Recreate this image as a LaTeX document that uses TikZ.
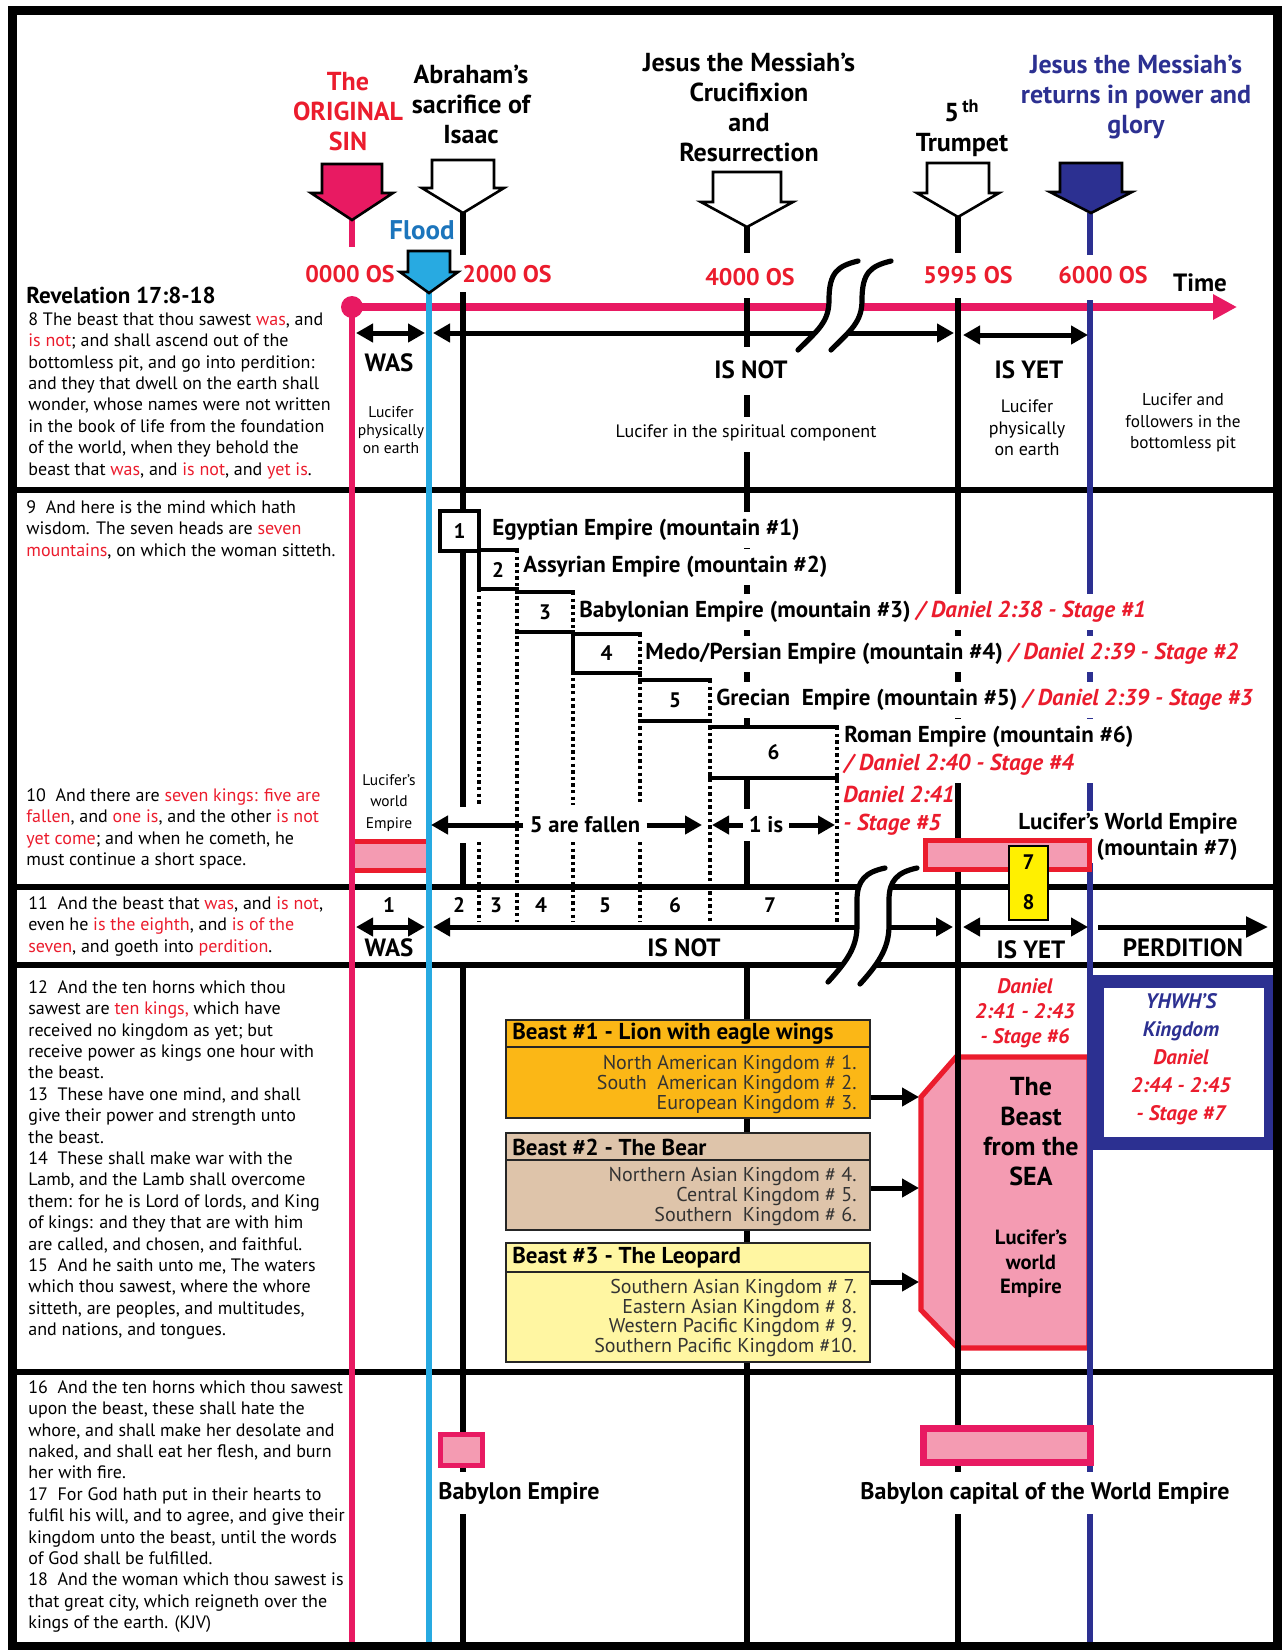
\documentclass[tikz,border=0pt]{standalone}
\usepackage{fontspec}
\setmainfont{PT Sans}
\usetikzlibrary{arrows.meta}

\definecolor{sinpink}{RGB}{232,26,98}
\definecolor{vred}{RGB}{235,28,45}
\definecolor{floodcyan}{RGB}{40,170,225}
\definecolor{floodblue}{RGB}{28,117,188}
\definecolor{navy}{RGB}{44,48,145}
\definecolor{softpink}{RGB}{244,155,178}
\definecolor{lionorange}{RGB}{251,183,22}
\definecolor{beartan}{RGB}{222,196,170}
\definecolor{leopardyellow}{RGB}{255,246,162}
\definecolor{markyellow}{RGB}{255,240,0}

\newcommand{\redw}[1]{\textcolor{vred}{#1}}
\newcommand{\downblock}[7]{%
  \filldraw[fill=#7, draw=black, line width=1.3pt, line join=miter]
    (#1-#5,#2) -- (#1+#5,#2) -- (#1+#5,#3) -- (#1+#6,#3) -- (#1,#4)
    -- (#1-#6,#3) -- (#1-#5,#3) -- cycle;}

\tikzset{
  headline/.style={font={\bfseries\fontsize{13}{15}\selectfont}, align=center, inner sep=1pt},
  yearlab/.style={font={\bfseries\fontsize{12}{14}\selectfont}, text=vred, inner sep=1pt},
  bigword/.style={font={\bfseries\fontsize{12.5}{14}\selectfont}, inner sep=1pt},
  smallnote/.style={font={\fontsize{9}{10.7}\selectfont}, align=center, inner sep=1pt},
  tinynote/.style={font={\fontsize{7.8}{9}\selectfont}, align=center, inner sep=1pt},
  verse/.style={anchor=north west, inner sep=0pt, align=left, font={\fontsize{9}{10.7}\selectfont}},
  empire/.style={anchor=west, fill=white, inner xsep=1pt, inner ysep=3.5pt, align=left, font={\bfseries\fontsize{11.5}{14}\selectfont}},
  stagetext/.style={text=vred, font={\bfseries\itshape\fontsize{11.5}{14}\selectfont}},
  numlab/.style={font={\bfseries\fontsize{10.5}{12}\selectfont}, inner sep=1pt},
  outerframe/.style={line width=4.5pt},
  divider/.style={line width=2.6pt},
  vline/.style={line width=3pt},
  dotline/.style={line width=2pt, dash pattern=on 1.7pt off 1.6pt},
  boxline/.style={line width=2.3pt},
  arr/.style={line width=2.5pt, -{Triangle[length=8.5pt,width=9pt]}},
  darr/.style={line width=2.5pt, {Triangle[length=8.5pt,width=9pt]}-{Triangle[length=8.5pt,width=9pt]}},
  breakline/.style={line width=2.6pt, line cap=round},
  beastbox/.style={draw=black!85, line width=1.2pt, minimum width=182pt, inner sep=0pt},
  beasttitle/.style={anchor=west, font={\bfseries\fontsize{11.5}{12}\selectfont}, inner sep=0pt},
  beastbody/.style={anchor=east, align=right, font={\fontsize{10}{10}\selectfont}, text=black!80, inner sep=0pt},
  babyl/.style={fill=white, inner xsep=1pt, inner ysep=5pt, font={\bfseries\fontsize{12}{13}\selectfont}},
}

\begin{document}
\begin{tikzpicture}[x=0.5pt, y=-0.5pt]
\useasboundingbox (0,0) rectangle (1282,1650);

\foreach \y in {490,887,965,1372}
  \draw[divider] (12,\y) -- (1277,\y);

\filldraw[fill=softpink, draw=vred, line width=2.6pt, line join=miter]
  (956,1057) -- (1089,1057) -- (1089,1348) -- (958,1348) -- (921,1310) -- (921,1097) -- cycle;

\draw[line width=4pt, sinpink, -{Triangle[length=12pt,width=12pt]}] (352,307) -- (1237,307);
\fill[sinpink] (352,307) circle[radius=5.5pt];

\draw[vline, sinpink] (352,220) -- (352,247) (352,307) -- (352,1643);
\draw[vline, floodcyan] (429,293) -- (429,1643);
\draw[vline] (463,213) -- (463,255) (463,292) -- (463,807) (463,843) -- (463,887) (463,965) -- (463,1643);
\draw[line width=2.6pt] (747,227) -- (747,253) (747,298) -- (747,347) (747,395) -- (747,417)
  (747,452) -- (747,887) (747,965) -- (747,1643);
\draw[vline] (958,217) -- (958,253) (958,298) -- (958,1643);
\draw[vline, navy] (1090,213) -- (1090,255) (1090,300) -- (1090,1643);

\downblock{352}{164}{193}{220}{30}{41}{sinpink}
\downblock{463}{160}{188}{213}{31}{41}{white}
\downblock{747}{172}{202}{227}{34}{46}{white}
\downblock{958}{163}{193}{217}{31}{41}{white}
\downblock{1091}{163}{192}{213}{31}{41}{navy}
\downblock{429}{251}{272}{293}{21}{29}{floodcyan}

\node[headline, text=vred] (sin) at (348,112) {The\\ORIGINAL\\SIN};
\node[headline] (abraham) at (471,104) {Abraham's\\sacrifice of\\Isaac};
\node[headline] (cross) at (749,107) {Jesus the Messiah's\\Crucifixion\\and\\Resurrection};
\node[headline] (trumpet) at (962,128) {5\textsuperscript{\,th}\\Trumpet};
\node[headline, text=navy] (return) at (1136,97) {Jesus the Messiah's\\returns in power and\\glory};
\node[headline, text=floodblue, font={\bfseries\fontsize{13.5}{15}\selectfont}] (flood) at (422,230) {Flood};

\node[yearlab] (y0) at (350,274) {0000 OS};
\node[yearlab] (y2) at (507,274) {2000 OS};
\node[yearlab] (y4) at (750,277) {4000 OS};
\node[yearlab] (y5) at (968,275) {5995 OS};
\node[yearlab] (y6) at (1103,275) {6000 OS};
\node[bigword] (time) at (1200,283) {Time};

\node[anchor=west, inner sep=0pt, font={\bfseries\fontsize{11.5}{12}\selectfont}] (rev) at (26,295) {Revelation 17:8-18};

\coordinate (wasA) at (356,333);
\coordinate (wasB) at (425,333);
\coordinate (notA) at (433,333);
\coordinate (notB) at (954,333);
\coordinate (yetA) at (963,335);
\coordinate (yetB) at (1088,335);
\draw[darr] (wasA) -- (wasB);
\draw[darr] (notA) -- (notB);
\draw[darr] (yetA) -- (yetB);

\node[bigword] (was1) at (389,363) {WAS};
\node[bigword] (isnot1) at (751,370) {IS NOT};
\node[bigword] (isyet1) at (1029,370) {IS YET};
\node[tinynote] (lucA) at (391,430) {Lucifer\\physically\\on earth};
\node[smallnote] (lucB) at (746,433) {Lucifer in the spiritual component};
\node[smallnote] (lucC) at (1027,428) {Lucifer\\physically\\on earth};
\node[smallnote, font={\fontsize{8.6}{10.7}\selectfont}] (lucD) at (1183,423) {Lucifer and\\followers in the\\bottomless pit};

\fill[white] (798,350) .. controls (818,330) and (829,322) .. (829,300) .. controls (829,272) and (838,266) .. (858,261)
  -- (891,261) .. controls (871,266) and (862,272) .. (862,300) .. controls (862,322) and (851,330) .. (831,350) -- cycle;
\draw[breakline] (798,350) .. controls (818,330) and (829,322) .. (829,300) .. controls (829,272) and (838,266) .. (858,261);
\draw[breakline] (831,350) .. controls (851,330) and (862,322) .. (862,300) .. controls (862,272) and (871,266) .. (891,261);

\node[empire] (e1) at (490,530) {Egyptian Empire (mountain \#1)};
\node[empire] (e2) at (521,567) {Assyrian Empire (mountain \#2)};
\node[empire] (e3) at (577,612) {Babylonian Empire (mountain \#3) {\itshape\color{vred}/ Daniel 2:38 - Stage \#1}};
\node[empire] (e4) at (643,654) {Medo/Persian Empire (mountain \#4) {\itshape\color{vred}/ Daniel 2:39 - Stage \#2}};
\node[empire] (e5) at (714,700) {Grecian\ \ Empire (mountain \#5) {\itshape\color{vred}/ Daniel 2:39 - Stage \#3}};
\node[empire] (e6) at (842,751) {Roman Empire (mountain \#6)\\{\itshape\color{vred}/ Daniel 2:40 - Stage \#4}};
\node[stagetext, anchor=west, align=left, inner sep=1pt] (st5) at (841,811) {Daniel 2:41\\- Stage \#5};

\foreach \n/\xa/\xb/\ya/\yb in {1/440/479/511/551, 2/479/517/550/589, 3/517/573/592/632,
    4/573/640/634/673, 5/640/710/680/721, 6/710/837/727/778} {
  \fill[white] (\xa,\ya) rectangle (\xb,\yb);
  \draw[boxline] (\xa-2,\ya) -- (\xb+2,\ya) (\xa-2,\yb) -- (\xb+2,\yb);
  \node[numlab] (m\n) at ({(\xa+\xb)/2},{(\ya+\yb)/2}) {\n};
}
\draw[boxline] (440,511) -- (440,551) (479,511) -- (479,589) (573,634) -- (573,673);
\foreach \x/\y in {517/550, 710/680, 837/727}
  \draw[dotline] (\x,\y) -- (\x,922);
\foreach \x/\y in {479/589, 573/592, 640/634}
  \draw[dotline] (\x,\y) -- (\x,805) (\x,842) -- (\x,922);

\node[bigword, fill=white, inner ysep=4pt, inner xsep=3pt, font={\bfseries\fontsize{11.3}{12}\selectfont}] (fallen) at (585,825) {5 are fallen};
\node[bigword, fill=white, inner ysep=4pt, inner xsep=3pt, font={\bfseries\fontsize{11.3}{12}\selectfont}] (oneis) at (766,825) {1 is};
\coordinate (fallenL) at (431,825);
\coordinate (fallenR) at (702,825);
\coordinate (oneL) at (712,825);
\coordinate (oneR) at (835,825);
\draw[arr] (fallen.west) -- (fallenL);
\draw[arr] (fallen.east) -- (fallenR);
\draw[arr] (oneis.west) -- (oneL);
\draw[arr] (oneis.east) -- (oneR);

\node[tinynote, font={\fontsize{7.7}{10.7}\selectfont}] (lweL) at (389,803) {Lucifer's\\world\\Empire};
\fill[softpink] (355,840) rectangle (426,872);
\draw[line width=2.5pt, vred] (355,841.5) -- (426,841.5) (355,870) -- (426,870);

\node[anchor=east, align=right, fill=white, inner sep=1pt, font={\bfseries\fontsize{11.5}{13}\selectfont}] (lweR) at (1240,837) {Lucifer's World Empire\\(mountain \#7)};
\filldraw[fill=softpink, draw=vred, line width=2.5pt] (925,840) rectangle (1089,869);
\filldraw[fill=markyellow, draw=black, line width=1pt] (1009,846) rectangle (1048,920);
\node[numlab] (k7) at (1028.5,862) {7};
\node[numlab] (k8) at (1028.5,902) {8};

\foreach \n/\x in {1/389, 2/459, 3/496, 4/541, 5/605, 6/675, 7/770}
  \node[numlab] (c\n) at (\x,905) {\n};
\coordinate (was2A) at (356,927);
\coordinate (was2B) at (425,927);
\coordinate (not2A) at (433,927);
\coordinate (not2B) at (953,927);
\coordinate (yet2A) at (963,927);
\coordinate (yet2B) at (1088,927);
\coordinate (perA) at (1098,927);
\coordinate (perB) at (1268,927);
\draw[darr] (was2A) -- (was2B);
\draw[darr] (not2A) -- (not2B);
\draw[darr] (yet2A) -- (yet2B);
\draw[line width=2.5pt, -{Triangle[length=11pt,width=10pt]}] (perA) -- (perB);
\node[bigword] (was2) at (389,948) {WAS};
\node[bigword] (isnot2) at (684,948) {IS NOT};
\node[bigword] (isyet2) at (1031,950) {IS YET};
\node[bigword] (perdition) at (1183,948) {PERDITION};

\fill[white] (828,982) .. controls (850,958) and (857,945) .. (857,925) -- (857,900) .. controls (857,880) and (866,872) .. (885,868)
  -- (917,868) .. controls (898,872) and (889,880) .. (889,900) -- (889,925) .. controls (889,945) and (882,960) .. (860,984) -- cycle;
\draw[breakline] (828,982) .. controls (850,958) and (857,945) .. (857,925) -- (857,900) .. controls (857,880) and (866,872) .. (885,868);
\draw[breakline] (860,984) .. controls (882,960) and (889,945) .. (889,925) -- (889,900) .. controls (889,880) and (898,872) .. (917,868);

\foreach \nm/\col/\yc/\h/\ys in {lion/lionorange/1069/49pt/1047, bear/beartan/1181.5/48.5pt/1160,
    leopard/leopardyellow/1302.5/59.5pt/1272} {
  \node[beastbox, fill=\col, minimum height=\h] (\nm) at (688,\yc) {};
  \draw[line width=1.2pt, black!85] (506,\ys) -- (870,\ys);
}
\node[beasttitle] (lion-t) at (512,1034) {Beast \#1 - Lion with eagle wings};
\node[beasttitle] (bear-t) at (512,1147) {Beast \#2 - The Bear};
\node[beasttitle] (leopard-t) at (512,1258) {Beast \#3 - The Leopard};
\node[beastbody] (lion-b) at (857,1084) {North American Kingdom \# 1.\\South\ \ American Kingdom \# 2.\\European Kingdom \# 3.};
\node[beastbody] (bear-b) at (857,1196) {Northern Asian Kingdom \# 4.\\Central Kingdom \# 5.\\Southern\ \ Kingdom \# 6.};
\node[beastbody, font={\fontsize{10}{9.7}\selectfont}] (leopard-b) at (857,1318) {Southern Asian Kingdom \# 7.\\Eastern Asian Kingdom \# 8.\\Western Pacific Kingdom \# 9.\\Southern Pacific Kingdom \#10.};
\foreach \nm/\y in {lion/1097, bear/1188, leopard/1282} {
  \coordinate (\nm-in) at (919,\y);
  \draw[arr] (\nm.east |- \nm-in) -- (\nm-in);
}

\node[align=center, inner sep=0pt, font={\bfseries\fontsize{13}{15}\selectfont}] (sea) at (1031,1132) {The\\Beast\\from the\\SEA};
\node[align=center, inner sep=0pt, font={\bfseries\fontsize{10.3}{12.3}\selectfont}] (lweS) at (1031,1264) {Lucifer's\\world\\Empire};
\node[stagetext, align=center, inner sep=0pt, font={\bfseries\itshape\fontsize{10.5}{12.5}\selectfont}] (st6) at (1025,1013) {Daniel\\2:41 - 2:43\\- Stage \#6};
\draw[line width=6.5pt, navy] (1097,981) rectangle (1270,1143);
\node[stagetext, align=center, inner sep=0pt, font={\bfseries\itshape\fontsize{10.5}{14}\selectfont}] (yhwh) at (1181,1059) {\textcolor{navy}{YHWH'S}\\\textcolor{navy}{Kingdom}\\Daniel\\2:44 - 2:45\\- Stage \#7};

\filldraw[fill=softpink, draw=sinpink, line width=2.5pt] (440,1434) rectangle (482,1465);
\filldraw[fill=softpink, draw=sinpink, line width=3.5pt] (923,1428) rectangle (1090,1462);
\node[babyl, anchor=west] (babylon) at (436,1493) {Babylon Empire};
\node[babyl] (capital) at (1045,1493) {Babylon capital of the World Empire};

\node[verse] (v8) at (28,312) {8 The beast that thou sawest \redw{was}, and\\
\redw{is not}; and shall ascend out of the\\
bottomless pit, and go into perdition:\\
and they that dwell on the earth shall\\
wonder, whose names were not written\\
in the book of life from the foundation\\
of the world, when they behold the\\
beast that \redw{was}, and \redw{is not}, and \redw{yet is}.};
\node[verse] (v9) at (26,500) {9\ \ And here is the mind which hath\\
wisdom. The seven heads are \redw{seven}\\
\redw{mountains}, on which the woman sitteth.};
\node[verse] (v10) at (26,788) {10\ \ And there are \redw{seven kings: five are}\\
\redw{fallen}, and \redw{one is}, and the other \redw{is not}\\
\redw{yet come}; and when he cometh, he\\
must continue a short space.};
\node[verse] (v11) at (28,896) {11\ \ And the beast that \redw{was}, and \redw{is not},\\
even he \redw{is the eighth}, and \redw{is of the}\\
\redw{seven}, and goeth into \redw{perdition}.};
\node[verse] (v12) at (28,980) {12\ \ And the ten horns which thou\\
sawest are \redw{ten kings,} which have\\
received no kingdom as yet; but\\
receive power as kings one hour with\\
the beast.\\
13\ \ These have one mind, and shall\\
give their power and strength unto\\
the beast.\\
14\ \ These shall make war with the\\
Lamb, and the Lamb shall overcome\\
them: for he is Lord of lords, and King\\
of kings: and they that are with him\\
are called, and chosen, and faithful.\\
15\ \ And he saith unto me, The waters\\
which thou sawest, where the whore\\
sitteth, are peoples, and multitudes,\\
and nations, and tongues.};
\node[verse] (v16) at (28,1380) {16\ \ And the ten horns which thou sawest\\
upon the beast, these shall hate the\\
whore, and shall make her desolate and\\
naked, and shall eat her flesh, and burn\\
her with fire.\\
17\ \ For God hath put in their hearts to\\
fulfil his will, and to agree, and give their\\
kingdom unto the beast, until the words\\
of God shall be fulfilled.\\
18\ \ And the woman which thou sawest is\\
that great city, which reigneth over the\\
kings of the earth. (KJV)};

\draw[outerframe] (12,10) rectangle (1277,1646);
\end{tikzpicture}
\end{document}
